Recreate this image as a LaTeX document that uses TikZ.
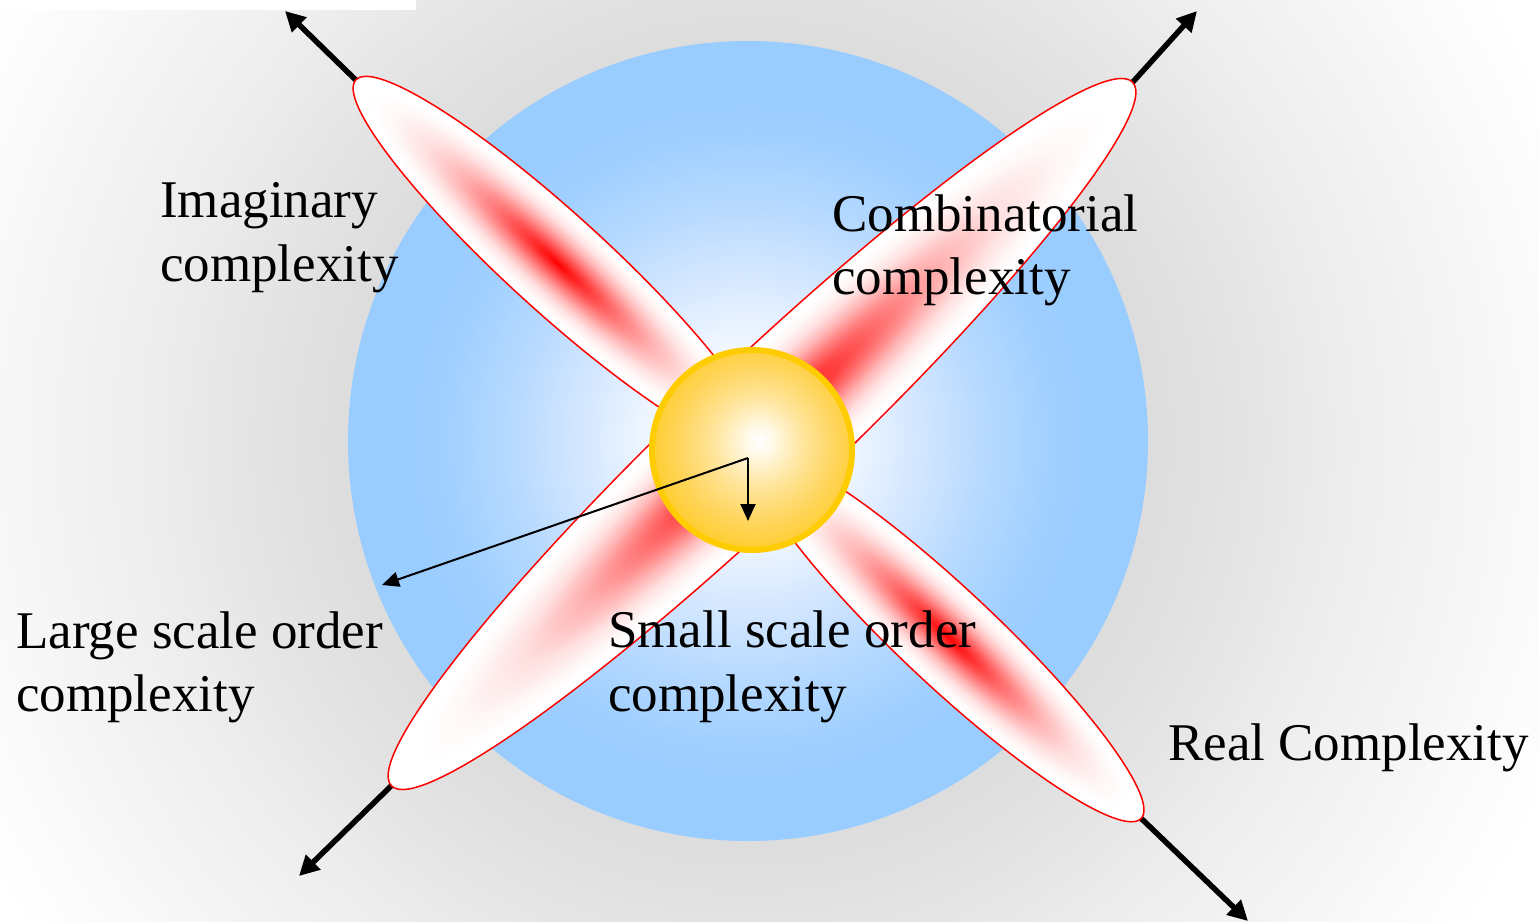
\documentclass[tikz,border=0pt]{standalone}
\usepackage{fontspec}
\setmainfont{Liberation Serif}
\usetikzlibrary{arrows.meta}
\pgfdeclareradialshading{bgshade}{\pgfpoint{0bp}{0bp}}{rgb(0bp)=(0.855,0.855,0.855); rgb(11bp)=(0.865,0.865,0.865); rgb(12.5bp)=(0.88,0.88,0.88); rgb(16.7bp)=(0.93,0.93,0.93); rgb(20.8bp)=(0.97,0.97,0.97); rgb(24.2bp)=(1,1,1); rgb(50bp)=(1,1,1)}
\pgfdeclareradialshading{blueshade}{\pgfpoint{0bp}{0bp}}{rgb(0bp)=(1,1,1); rgb(3bp)=(1,1,1); rgb(7bp)=(0.92,0.955,1); rgb(11bp)=(0.82,0.9,1); rgb(15bp)=(0.71,0.85,1); rgb(19bp)=(0.63,0.815,1); rgb(22bp)=(0.6,0.8,1); rgb(50bp)=(0.6,0.8,1)}
\pgfdeclareradialshading{sunshade}{\pgfpoint{2bp}{2.5bp}}{rgb(0bp)=(1,1,1); rgb(3bp)=(1,0.98,0.92); rgb(11bp)=(1,0.9,0.62); rgb(19bp)=(1,0.84,0.38); rgb(25bp)=(1,0.81,0.22); rgb(50bp)=(1,0.81,0.22)}
\pgfdeclareradialshading{redcore}{\pgfpoint{0bp}{0bp}}{rgb(0bp)=(1,0,0); rgb(4bp)=(1,0.25,0.25); rgb(8bp)=(1,0.5,0.5); rgb(12bp)=(1,0.72,0.72); rgb(16bp)=(1,0.88,0.88); rgb(20bp)=(1,0.97,0.97); rgb(23bp)=(1,1,1); rgb(50bp)=(1,1,1)}
\pgfdeclareradialshading{redlong}{\pgfpoint{0bp}{0bp}}{rgb(0bp)=(1,0.1,0.1); rgb(5bp)=(1,0.25,0.25); rgb(8bp)=(1,0.45,0.45); rgb(12bp)=(1,0.7,0.7); rgb(16bp)=(1,0.88,0.88); rgb(20bp)=(1,0.97,0.97); rgb(23bp)=(1,1,1); rgb(50bp)=(1,1,1)}
\definecolor{sunedge}{RGB}{255,204,0}
\begin{document}
\begin{tikzpicture}[x=1pt,y=-1pt,
  thickarrow/.style={line width=5.5pt,-{Triangle[length=20pt,width=20pt]}},
  thinarrow/.style={line width=2pt,-{Triangle[length=17pt,width=15pt]}},
  petal/.style={draw=red,line width=1.5pt},
  lbl/.style={font=\fontsize{53}{64}\selectfont,inner sep=0pt,anchor=base west,text=black}]
\useasboundingbox (0,0) rectangle (1539,921);
% background
\begin{scope}
\clip (0,0) rectangle (1539,921);
\shade[shading=bgshade] (748,441) circle [radius=900pt];
\end{scope}
\fill[white] (0,0) rectangle (416,10);
% blue disc
\shade[shading=blueshade] (748,441) circle [radius=400pt];
% coordinates of petal tips and arrow ends
\coordinate (nwTip) at (355.8,80.0);
\coordinate (neTip) at (1132.7,82.2);
\coordinate (swTip) at (391.3,785.8);
\coordinate (seTip) at (1141.2,818.4);
\coordinate (nwEnd) at (285,11);
\coordinate (neEnd) at (1197,11);
\coordinate (swEnd) at (299,876);
\coordinate (seEnd) at (1248,921);
\draw[thickarrow] (nwTip) -- (nwEnd);
\draw[thickarrow] (neTip) -- (neEnd);
\draw[thickarrow] (swTip) -- (swEnd);
\draw[thickarrow] (seTip) -- (seEnd);
% petals
\begin{scope}[transform canvas={shift={(762,434)},rotate=43.5}]
\shadedraw[petal,shading=redlong] (0,0) ellipse [x radius=511pt,y radius=71pt];
\end{scope}
\begin{scope}[transform canvas={shift={(557,263)},rotate=-42.3}]
\shadedraw[petal,shading=redcore] (0,0) ellipse [x radius=272pt,y radius=49pt];
\end{scope}
\begin{scope}[transform canvas={shift={(948,637)},rotate=-43.2}]
\shadedraw[petal,shading=redcore] (0,0) ellipse [x radius=265pt,y radius=48pt];
\end{scope}
% sun
\shadedraw[shading=sunshade,draw=sunedge,line width=6pt] (752,450) circle [radius=100pt];
% thin arrows
\coordinate (hub) at (748,458);
\coordinate (smallTip) at (748,521);
\coordinate (largeTip) at (382,585);
\draw[thinarrow] (hub) -- (smallTip);
\draw[thinarrow] (hub) -- (largeTip);
% labels
\node[lbl] (imag1) at (160,217) {Imaginary};
\node[lbl] (imag2) at (160,281) {complexity};
\node[lbl] (comb1) at (832,231) {Combinatorial};
\node[lbl] (comb2) at (832,294) {complexity};
\node[lbl] (large1) at (16,648) {Large scale order};
\node[lbl] (large2) at (16,711) {complexity};
\node[lbl] (small1) at (608,647) {Small scale order};
\node[lbl] (small2) at (608,711) {complexity};
\node[lbl] (real) at (1168,760) {Real Complexity};
\end{tikzpicture}
\end{document}
